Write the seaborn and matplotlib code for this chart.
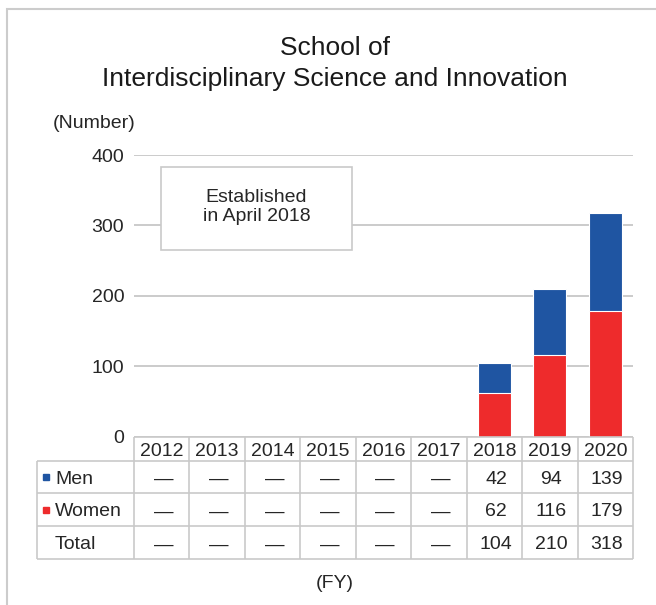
import numpy as np
import pandas as pd
import matplotlib.pyplot as plt
from matplotlib.patches import Rectangle
import seaborn as sns

# Data
years = ["2012", "2013", "2014", "2015", "2016", "2017", "2018", "2019", "2020"]
men = [np.nan] * 6 + [42, 94, 139]
women = [np.nan] * 6 + [62, 116, 179]
total = [np.nan] * 6 + [104, 210, 318]
row_labels = ["Men", "Women", "Total"]

BLUE = "#1F55A2"
RED = "#EE2B2C"
LINE = "#C9C9C9"
TXT = "#262626"

sns.set_style("white")
plt.rcParams["font.family"] = ["Liberation Sans", "DejaVu Sans"]

df = pd.DataFrame({"year": years, "Men": men, "Women": women, "Total": total})

W, H = 656, 605
fig = plt.figure(figsize=(W / 100, H / 100), dpi=100)


def fx(px):
    return px / W


def fy(py):
    return 1 - py / H


# plot area (pixels)
L, R, T, B = 134, 633, 155, 436.7
TB = 559
colw = (R - L) / len(years)


def px_to_x(px):
    return (px - L) / colw - 0.5


def py_to_val(py):
    return (B - py) / ((B - T) / 400)


ax = fig.add_axes([fx(L), fy(B), fx(R - L), (B - T) / H])
tax = fig.add_axes([fx(L), fy(TB), fx(R - L), (TB - B) / H])

# stacked bars: total (men on top) then women below
bar_kw = dict(order=years, width=0.6, errorbar=None, saturation=1,
              edgecolor="white", linewidth=0.8, ax=ax, zorder=3)
sns.barplot(data=df, x="year", y="Total", color=BLUE, **bar_kw)
sns.barplot(data=df, x="year", y="Women", color=RED, **bar_kw)

ax.set_xlim(-0.5, len(years) - 0.5)
ax.set_ylim(0, 400)
ax.set_yticks([0, 100, 200, 300, 400])
ax.yaxis.grid(True, color="#C2C2C2", linewidth=1.2)
ax.set_axisbelow(True)
ax.tick_params(axis="y", length=0, pad=7, labelsize=14, labelcolor=TXT)
ax.tick_params(axis="x", bottom=False, labelbottom=False)
ax.set_xlabel("")
ax.set_ylabel("")
sns.despine(ax=ax, left=True, bottom=True)

# "Established" box
bx0, bx1 = px_to_x(161), px_to_x(352)
by0, by1 = py_to_val(250), py_to_val(167)
ax.add_patch(Rectangle((bx0, by0), bx1 - bx0, by1 - by0, facecolor="white",
                       edgecolor=LINE, linewidth=1.2, zorder=4))
ax.text((bx0 + bx1) / 2, (by0 + by1) / 2 + 2, "Established\nin April 2018",
        ha="center", va="center", fontsize=14, color=TXT, linespacing=1.15,
        zorder=5)

# data table below the axis
tax.set_xlim(-0.5, len(years) - 0.5)
tax.set_ylim(TB - B, 0)
tax.axis("off")
edges = [0, 24, 56.3, 89.3, 122]
x_left = px_to_x(37)
tax.hlines(0, -0.5, len(years) - 0.5, color=LINE, linewidth=1.2, clip_on=False)
tax.hlines(edges[1:], x_left, len(years) - 0.5, color=LINE, linewidth=1.2,
           clip_on=False)
tax.vlines(np.arange(-0.5, len(years)), 0, edges[-1], color=LINE,
           linewidth=1.2, clip_on=False)
tax.vlines(x_left, edges[1], edges[-1], color=LINE, linewidth=1.2,
           clip_on=False)

CAP = 7
mid0 = (edges[0] + edges[1]) / 2
for i, y in enumerate(years):
    tax.text(i, mid0 + CAP, y, ha="center", va="baseline", fontsize=14,
             color=TXT, clip_on=False)

rows = [men, women, total]
keys = [BLUE, RED, None]
for r, (label, vals, key) in enumerate(zip(row_labels, rows, keys)):
    mid = (edges[r + 1] + edges[r + 2]) / 2
    if key:
        tax.plot(px_to_x(45.5), mid, marker="s", markersize=5, color=key,
                 clip_on=False)
    tax.text(px_to_x(55), mid + CAP, label, ha="left", va="baseline",
             fontsize=14, color=TXT, clip_on=False)
    for i, v in enumerate(vals):
        s = "—" if np.isnan(v) else str(int(v))
        tax.text(i + 0.03, mid + CAP, s, ha="center", va="baseline",
                 fontsize=14, color=TXT, clip_on=False)

# titles and labels
fig.text(fx(335), fy(55), "School of", ha="center", va="baseline",
         fontsize=19, color="#1A1A1A")
fig.text(fx(335), fy(86), "Interdisciplinary Science and Innovation",
         ha="center", va="baseline", fontsize=19, color="#1A1A1A")
fig.text(fx(53), fy(128), "(Number)", ha="left", va="baseline", fontsize=14,
         color=TXT)
fig.text(fx(335), fy(583), "(FY)", ha="center", va="center", fontsize=14,
         color=TXT)

# outer frame
fig.add_artist(Rectangle((fx(7), -0.05), 1.1, fy(8.7) + 0.05,
                         transform=fig.transFigure, fill=False,
                         edgecolor="#CCCCCC", linewidth=1.5))

fig.savefig("out.png", dpi=100)
